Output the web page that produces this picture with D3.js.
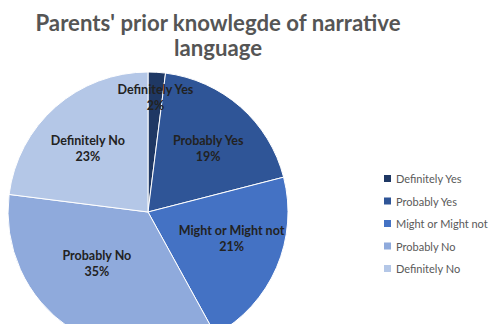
<!doctype html>
<html lang="en">
<head>
    <meta charset="UTF-8">
    <title>pie</title>
    <script src="https://cdn.jsdelivr.net/npm/d3@7"></script>
    <style>
        body { margin: 0; background: #fff; }
        svg { display: block; }
    </style>
</head>
<body>
<svg width="490" height="324"></svg>
</body>
<script>

    // answers and share of parents (%)
    let categories = ["Definitely Yes", "Probably Yes", "Might or Might not", "Probably No", "Definitely No"];
    let values = [2, 19, 21, 35, 23];
    let colors = ["#1f3864", "#2f5597", "#4472c4", "#8faadc", "#b4c7e7"];
    let titleLines = ["Parents' prior knowlegde of narrative", "language"];

    let svg = d3.select("svg");
    let width = +svg.attr("width"), height = +svg.attr("height");

    let cx = 148, cy = 212, radius = 140;

    // title
    svg.append("g").selectAll("text").data(titleLines).enter().append("text")
        .attr("x", 218)
        .attr("y", (d, i) => 31 + i * 25)
        .attr("text-anchor", "middle")
        .attr("font-family", "Lato, 'Open Sans', sans-serif")
        .attr("font-weight", "bold")
        .attr("font-size", 22.2)
        .attr("fill", "#555")
        .text(d => d);

    let pie = d3.pie().sort(null).value(d => d);
    let arcs = pie(values);
    let arc = d3.arc().innerRadius(0).outerRadius(radius);

    let g = svg.append("g").attr("transform", "translate(" + cx + "," + cy + ")");

    g.selectAll("path").data(arcs).enter().append("path")
        .attr("d", arc)
        .attr("fill", (d, i) => colors[i])
        .attr("stroke", "#fff")
        .attr("stroke-width", 1);

    // labels: small slices get pushed out towards the rim,
    // labels in the lower half are pulled up since the pie is cut at the bottom
    let labelArc = d3.arc().innerRadius(radius * 0.65).outerRadius(radius * 0.65);
    let outerArc = d3.arc().innerRadius(radius * 0.85).outerRadius(radius * 0.85);

    let labels = g.selectAll(".lbl").data(arcs).enter().append("text")
        .attr("class", "lbl")
        .attr("transform", function (d) {
            let c = (d.endAngle - d.startAngle) < 0.3 ? outerArc.centroid(d) : labelArc.centroid(d);
            if (c[1] > 0) c[1] = c[1] * 0.62;
            return "translate(" + c[0] + "," + c[1] + ")";
        })
        .attr("text-anchor", "middle")
        .attr("font-family", "Lato, 'Open Sans', sans-serif")
        .attr("font-weight", "bold")
        .attr("font-size", 12.5)
        .attr("fill", "#222");

    labels.append("tspan").attr("x", 0).attr("dy", 1)
        .text((d, i) => categories[i]);
    labels.append("tspan").attr("x", 0).attr("dy", 16)
        .text(d => d.data + "%");

    // legend
    let legend = svg.append("g").attr("transform", "translate(384,179)");
    let rows = legend.selectAll("g").data(categories).enter().append("g")
        .attr("transform", (d, i) => "translate(0," + (i * 22.5) + ")");
    rows.append("rect")
        .attr("x", 0).attr("y", -4)
        .attr("width", 7).attr("height", 7)
        .attr("fill", (d, i) => colors[i]);
    rows.append("text")
        .attr("x", 12).attr("y", 4)
        .attr("font-family", "Lato, 'Open Sans', sans-serif")
        .attr("font-size", 11)
        .attr("fill", "#595959")
        .text(d => d);

</script>
</html>
